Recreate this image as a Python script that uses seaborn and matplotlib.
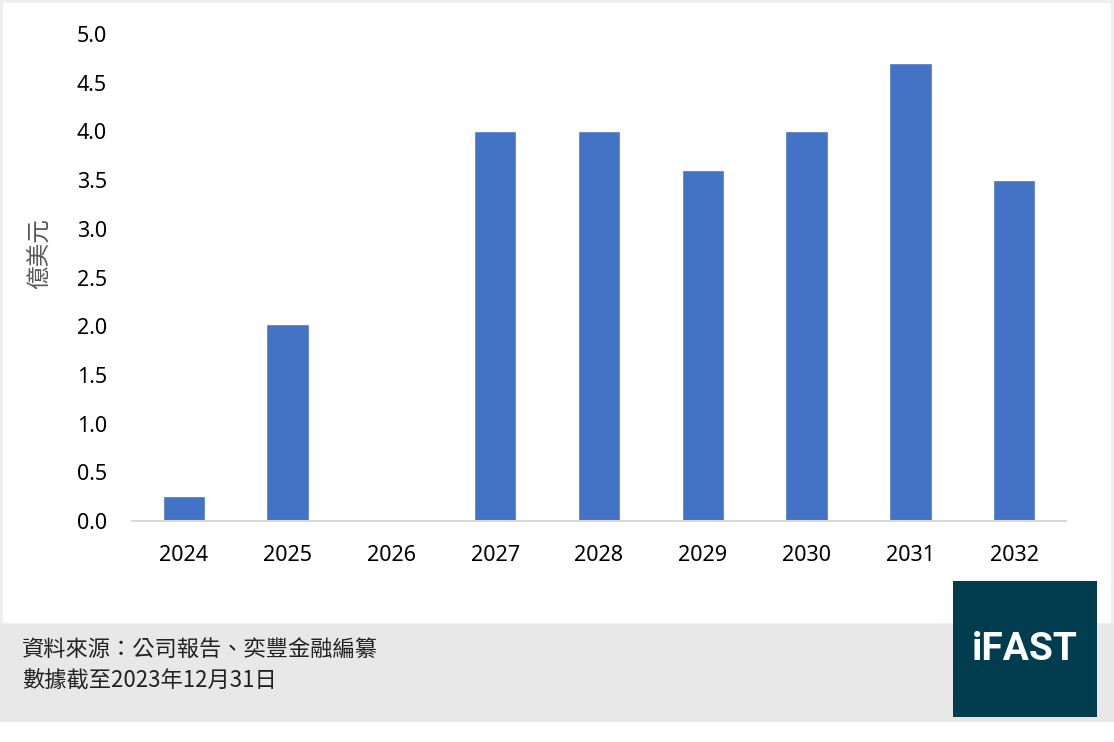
import matplotlib.pyplot as plt
import seaborn as sns
import pandas as pd
from matplotlib.patches import Rectangle

years = ["2024", "2025", "2026", "2027", "2028", "2029", "2030", "2031", "2032"]
values = [0.26, 2.02, 0.0, 4.0, 4.0, 3.6, 4.0, 4.7, 3.5]
y_ticks = [0.0, 0.5, 1.0, 1.5, 2.0, 2.5, 3.0, 3.5, 4.0, 4.5, 5.0]
y_label = "億美元"
source_lines = ["資料來源：公司報告、奕豐金融編纂", "數據截至2023年12月31日"]
logo_text = "iFAST"

df = pd.DataFrame({"year": years, "value": values})

sns.set_style("white")
plt.rcParams["font.family"] = ["Noto Sans", "Noto Sans CJK TC", "DejaVu Sans"]

W, H = 1114, 742
fig = plt.figure(figsize=(W / 100, H / 100), dpi=100)
fig.patch.set_facecolor("white")

# background panels (figure pixel coords -> fractions)
def px_rect(x0, y0, x1, y1, z, **kw):
    fig.patches.append(Rectangle((x0 / W, 1 - y1 / H), (x1 - x0) / W, (y1 - y0) / H,
                                 transform=fig.transFigure, figure=fig, zorder=z, **kw))

px_rect(0, 0, 1114, 625, -3, facecolor="#EFEFEF", edgecolor="none")
px_rect(3, 3, 1111, 623, -2, facecolor="white", edgecolor="none")
px_rect(0, 624, 1114, 722, -2, facecolor="#E8E8E8", edgecolor="none")
px_rect(953, 581, 1097, 717, 4, facecolor="#023D4F", edgecolor="none")

ax = fig.add_axes([132 / W, 1 - 521 / H, (1066 - 132) / W, (521 - 34) / H])
ax.set_zorder(2)
ax.set_facecolor("none")
sns.barplot(data=df, x="year", y="value", color="#4472C4", saturation=1,
            width=0.41, ax=ax)

ax.set_xlim(-0.5, len(years) - 0.5)
ax.set_ylim(0, 5.0)
ax.set_yticks(y_ticks)
ax.set_yticklabels([f"{t:.1f}" for t in y_ticks])
ax.tick_params(axis="both", length=0, labelsize=15.5, colors="black")
ax.tick_params(axis="y", pad=18)
ax.tick_params(axis="x", pad=17)
ax.set_xlabel("")
ax.set_ylabel(y_label, fontsize=17, color="#595959", labelpad=18, y=0.55,
              family=["Noto Sans CJK TC"])

for s in ["top", "right", "left"]:
    ax.spines[s].set_visible(False)
ax.spines["bottom"].set_color("#D9D9D9")
ax.spines["bottom"].set_linewidth(1.5)

fig.text(22 / W, 1 - 650 / H, source_lines[0], fontsize=16, va="center", ha="left",
         family=["Noto Sans CJK TC"], color="#222222")
fig.text(22 / W, 1 - 680 / H, source_lines[1], fontsize=16, va="center", ha="left",
         family=["Noto Sans CJK TC"], color="#222222")

fig.text(1025 / W, 1 - 649 / H, logo_text, fontsize=28, fontweight="bold",
         color="white", ha="center", va="center",
         family=["Roboto", "DejaVu Sans"], zorder=5)

fig.savefig("out.png", dpi=100)
